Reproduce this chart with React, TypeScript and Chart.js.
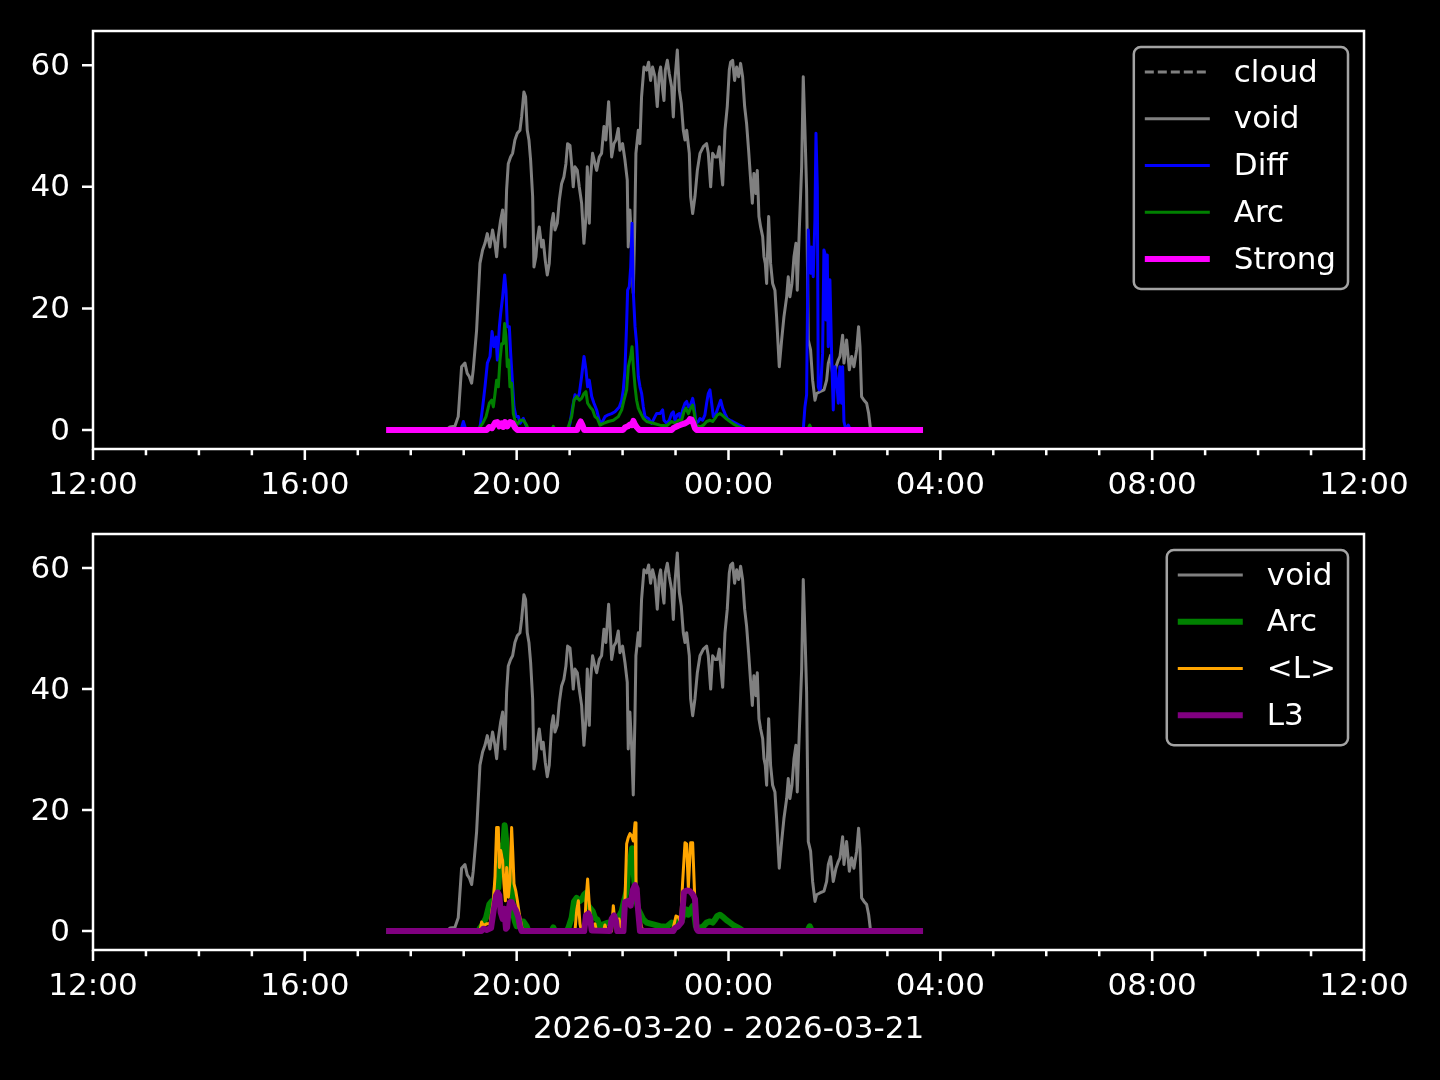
import { useEffect, useRef } from "react";
import { Chart, registerables } from "chart.js";

Chart.register(...registerables);

// ---------- data (x = minutes after 12:00 on 2026-03-20) ----------
const xTickMinutes = [0, 240, 480, 720, 960, 1200, 1440];
const xTickLabels = ["12:00", "16:00", "20:00", "00:00", "04:00", "08:00", "12:00"];
const yTickValues = [0, 20, 40, 60];
const xAxisTitle = "2026-03-20 - 2026-03-21";
const Y_MIN = -3.125;
const Y_MAX = 65.625;

const cloudData: [number, number][] = [];

const voidData: [number, number][] = [
  [335.5, 0], [400, 0], [404.4, 0.5], [410, 0.6], [413.8, 2.2], [417.6, 10.4], [421.4, 11.0], [424.0, 9.3],
  [426.3, 8.8], [429.0, 7.7], [430.8, 9.9], [434.6, 16.4], [438.4, 27.4], [441.4, 29.6], [444.1, 30.7],
  [446.7, 32.3], [449.7, 30.1], [452.7, 32.9], [455.4, 30.7], [457.3, 28.5], [459.2, 31.8], [461.8, 34.5],
  [464.1, 36.2], [466.7, 30.1], [468.6, 39.5], [470.5, 43.8], [473.1, 44.9], [475.4, 45.5], [478.0, 47.7],
  [480.7, 48.8], [483.7, 49.3], [485.6, 51.5], [488.2, 55.6], [490.1, 54.8], [492.0, 49.3], [493.9, 47.7],
  [495.8, 44.4], [498.1, 38.4], [499.6, 26.8], [501.8, 28.5], [503.3, 31.2], [505.6, 33.4], [508.3, 30.1],
  [510.1, 31.2], [512.4, 27.9], [514.7, 25.5], [516.9, 27.4], [519.6, 34.0], [521.5, 35.6], [523.4, 32.9],
  [526.0, 34.0], [528.3, 37.8], [530.9, 40.5], [533.5, 41.6], [535.8, 43.8], [537.7, 47.1], [540.4, 46.8],
  [542.2, 43.8], [544.1, 40.0], [546.0, 43.3], [548.7, 42.7], [550.9, 40.0], [553.6, 37.3], [556.2, 30.7],
  [558.5, 35.1], [560.0, 43.3], [562.3, 34.0], [563.8, 41.6], [566.0, 45.5], [568.7, 43.8], [570.6, 42.7],
  [573.6, 44.9], [576.2, 45.5], [578.9, 49.9], [581.1, 47.7], [584.2, 54.0], [585.7, 50.4], [587.6, 44.9],
  [590.2, 47.1], [592.5, 47.7], [595.1, 49.6], [597.0, 46.0], [600.0, 47.1], [602.7, 44.4], [605.3, 41.1],
  [606.4, 30.1], [608.3, 36.2], [610.2, 30.7], [612.1, 22.5], [614.0, 35.1], [615.1, 45.5], [617.8, 49.3],
  [619.6, 47.1], [621.5, 54.8], [624.2, 59.7], [627.2, 59.2], [629.5, 60.5], [631.7, 57.5], [634.0, 59.7],
  [636.7, 58.1], [639.3, 53.2], [641.6, 58.6], [643.1, 59.7], [645.4, 55.9], [646.9, 54.2], [648.4, 59.2],
  [650.7, 60.8], [652.9, 58.6], [655.6, 56.4], [657.5, 51.5], [659.3, 57.5], [662.0, 62.5], [664.3, 55.9],
  [666.5, 53.7], [668.8, 49.3], [670.7, 47.7], [672.6, 49.3], [675.6, 45.5], [677.1, 38.4], [679.4, 35.6],
  [682.0, 38.4], [684.7, 42.7], [687.7, 45.5], [691.5, 46.6], [695.2, 47.1], [697.1, 45.5], [699.8, 40.0],
  [702.0, 45.5], [704.7, 44.9], [707.3, 44.9], [709.6, 46.6], [711.1, 43.8], [713.4, 40.3], [716.0, 49.3],
  [718.6, 53.2], [720.9, 59.2], [722.4, 60.5], [724.7, 60.8], [726.9, 57.5], [729.2, 59.7], [731.5, 58.1],
  [733.7, 60.3], [736.0, 58.1], [738.3, 53.2], [740.5, 50.4], [742.8, 46.0], [745.1, 41.1], [747.0, 37.3],
  [748.8, 42.2], [751.1, 38.9], [752.6, 42.7], [754.5, 35.1], [756.4, 33.4], [758.7, 31.8], [760.2, 28.5],
  [761.7, 27.4], [763.2, 24.1], [765.5, 35.1], [767.7, 27.4], [770.0, 24.1], [772.6, 23.0], [774.5, 18.6],
  [777.5, 10.4], [780.2, 14.8], [782.8, 18.6], [785.9, 21.9], [787.7, 25.2], [789.6, 21.9], [791.9, 24.1],
  [794.2, 28.5], [796.4, 30.7], [797.9, 23.0], [800.2, 32.9], [802.9, 43.3], [804.7, 58.1], [806.6, 49.3],
  [808.5, 39.5], [810.4, 14.8], [813.0, 13.2], [815.3, 8.2], [818.0, 4.9], [819.8, 6.0], [823.6, 6.3],
  [828.2, 6.6], [831.2, 8.2], [833.1, 11.0], [835.7, 12.3], [838.7, 8.2], [841.8, 10.4], [844.4, 11.5],
  [846.3, 12.1], [849.3, 15.6], [850.8, 11.0], [853.8, 14.8], [856.9, 9.9], [859.5, 12.1], [862.1, 10.4],
  [865.2, 13.2], [867.4, 17.0], [869.0, 13.7], [870.8, 5.5], [873.5, 4.9], [876.5, 4.4], [878.8, 2.7],
  [881.0, 0], [937, 0],
];

const diffData: [number, number][] = [
  [335.5, 0], [417, 0], [419.6, 1.4], [422.5, 0], [436.5, 0], [438.5, 0.5], [441.5, 3.8], [444.1, 7.1],
  [446.8, 11.0], [449.8, 12.1], [452.1, 16.2], [454.3, 13.7], [456.6, 15.3], [458.1, 11.5], [460.4, 17.0],
  [461.9, 19.2], [464.1, 21.9], [466.4, 25.5], [467.9, 23.0], [469.4, 17.0], [471.7, 17.0], [473.2, 12.6],
  [475.5, 7.1], [477.0, 3.8], [479.2, 2.2], [481.9, 2.2], [483.8, 1.1], [487.6, 1.9], [491.3, 0.5],
  [493.2, 0], [538.5, 0], [540.4, 1.1], [543.4, 3.8], [546.1, 5.8], [548.7, 5.2], [551.0, 6.0], [553.6, 8.8],
  [556.3, 12.1], [558.5, 9.9], [560.4, 7.1], [562.3, 8.2], [565.0, 5.5], [567.6, 4.4], [570.6, 3.3],
  [573.6, 1.6], [576.3, 1.1], [580.1, 2.2], [583.8, 2.5], [587.6, 2.7], [591.4, 3.0], [596.3, 3.8],
  [599.0, 4.9], [600.8, 6.6], [602.7, 9.9], [604.6, 17.5], [605.7, 23.0], [607.6, 23.6], [609.2, 26.8],
  [610.7, 34.0], [612.2, 22.5], [614.1, 17.0], [615.9, 14.2], [617.8, 8.8], [619.7, 7.1], [621.6, 6.0],
  [623.5, 3.8], [625.4, 2.2], [629.2, 1.9], [632.9, 1.1], [636.7, 2.2], [638.6, 2.7], [642.4, 2.7],
  [645.4, 3.3], [646.9, 1.6], [649.9, 1.1], [652.9, 1.6], [655.6, 2.7], [657.5, 3.0], [659.3, 1.6],
  [662.0, 2.5], [664.3, 2.7], [665.8, 1.6], [668.0, 3.3], [670.7, 4.4], [672.6, 4.7], [674.5, 3.8],
  [676.3, 3.8], [678.2, 4.7], [679.4, 5.2], [680.9, 4.1], [683.1, 1.1], [685.8, 1.4], [687.7, 1.9],
  [690.7, 1.6], [693.3, 2.5], [695.2, 4.4], [697.1, 6.0], [699.0, 6.6], [700.9, 4.4], [702.8, 2.2],
  [705.8, 2.7], [708.4, 3.8], [711.1, 4.9], [713.4, 3.6], [716.0, 2.7], [718.6, 1.9], [721.7, 1.6],
  [724.7, 1.4], [728.5, 1.1], [732.2, 0.8], [736.8, 0.5], [740.5, 0], [804.7, 0], [806.6, 3.8],
  [808.5, 5.8], [810.4, 32.9], [811.5, 29.0], [813.0, 25.8], [814.1, 30.1], [816.0, 25.2], [817.9, 34.5],
  [819.1, 48.8], [820.6, 40.0], [821.7, 7.1], [822.8, 6.6], [824.3, 6.8], [826.6, 12.6], [828.1, 29.6],
  [829.3, 29.0], [830.4, 18.1], [831.9, 28.8], [833.0, 13.7], [834.9, 24.7], [836.8, 12.6], [838.7, 3.3],
  [840.6, 10.4], [842.5, 8.2], [844.4, 4.4], [846.2, 10.4], [848.1, 4.4], [849.3, 10.4], [850.8, 1.4],
  [853.0, 0], [855.7, 0.8], [858.3, 0], [937, 0],
];

const arcData: [number, number][] = [
  [335.5, 0], [436.5, 0], [438.5, 0.5], [441.5, 1.1], [445.3, 2.2], [449.0, 4.4], [451.7, 4.9], [453.6, 3.8],
  [455.5, 6.0], [457.3, 8.2], [459.2, 7.1], [461.1, 11.5], [463.0, 14.2], [464.9, 14.2], [466.4, 17.5],
  [467.9, 15.3], [469.4, 10.4], [470.9, 11.5], [472.4, 7.1], [474.3, 7.7], [476.2, 2.7], [478.1, 1.6],
  [480.0, 0.8], [483.8, 1.6], [487.6, 1.6], [491.3, 0.8], [493.2, 0], [519.5, 0], [521.5, 0.6], [523.5, 0],
  [536.5, 0], [538.5, 0.5], [542.3, 2.2], [545.0, 4.9], [548.0, 5.5], [551.0, 4.9], [553.6, 5.2],
  [556.3, 6.0], [558.5, 6.3], [560.4, 4.4], [563.1, 3.8], [566.1, 3.3], [568.7, 2.2], [571.4, 1.9],
  [574.4, 0.8], [578.2, 1.1], [583.8, 1.4], [589.5, 1.6], [595.2, 2.2], [599.0, 3.3], [601.6, 4.9],
  [604.6, 6.6], [606.5, 10.4], [609.2, 12.1], [610.7, 13.7], [612.2, 10.4], [614.1, 7.1], [615.9, 4.9],
  [617.8, 3.6], [619.7, 3.0], [623.5, 1.9], [627.3, 1.4], [634.8, 1.1], [642.4, 0.8], [649.9, 0.7],
  [655.6, 1.4], [659.3, 1.1], [663.1, 1.6], [666.9, 1.6], [669.5, 3.0], [671.8, 3.6], [674.5, 2.7],
  [677.1, 3.6], [679.4, 4.1], [681.3, 2.7], [683.1, 0.8], [687.7, 0.5], [691.5, 0.8], [695.2, 1.4],
  [699.0, 1.6], [702.0, 1.4], [704.7, 1.9], [707.3, 2.5], [710.3, 2.7], [714.1, 2.3], [717.9, 1.8],
  [721.7, 1.4], [725.4, 1.0], [729.2, 0.7], [733.0, 0.4], [736.8, 0], [809.5, 0], [812, 0.8], [814.5, 0],
  [937, 0],
];

const strongData: [number, number][] = [
  [335.5, 0], [446, 0], [449.0, 0.5], [452, 0.3], [455.5, 1.2], [458.1, 1.3], [460.4, 0.6], [463.0, 1.1],
  [464.9, 0.5], [466.8, 1.3], [469.4, 0.6], [472.4, 1.3], [475.5, 1.1], [478.1, 0.4], [480.8, 0],
  [548.5, 0], [550.5, 0.8], [552.5, 1.4], [554.5, 0.8], [556.5, 0], [600.5, 0], [602.7, 0.4], [606, 0.6],
  [608.4, 0.9], [610.5, 0.8], [612.2, 1.5], [614, 0.9], [615.9, 0.5], [619, 0], [655.6, 0], [657.5, 0.3],
  [663.1, 0.7], [666.9, 0.9], [670.7, 1.1], [674.5, 1.4], [676.3, 1.8], [678.2, 1.7], [680.1, 1.1],
  [682.0, 0.3], [683.9, 0], [937, 0],
];

const meanLData: [number, number][] = [
  [335.5, 0], [438.5, 0], [440.3, 1.5], [442.2, 0.9], [446, 1.2], [449.8, 1.2], [453.6, 5.0], [455.5, 9.1],
  [457.3, 17.1], [459.2, 17.1], [460.4, 10.5], [461.9, 13.3], [464.1, 11.6], [465.6, 7.8], [467.2, 5.0],
  [468.7, 10.5], [470.6, 5.6], [472.4, 8.3], [474.3, 17.1], [475.5, 13.3], [477.0, 7.8], [478.9, 6.7],
  [480.8, 5.0], [483.0, 2.8], [485.7, 0.7], [487.6, 0], [546, 0], [548, 3.4], [549.9, 5.0], [551.7, 1.2],
  [553.5, 0], [556.8, 0], [558.5, 5.0], [560.4, 8.6], [562, 5.0], [564.2, 1.2], [566.5, 0.8], [568.7, 1.2],
  [570.6, 0], [578.5, 0], [580, 1.0], [582, 0], [587.5, 0], [589.5, 4.2], [591.4, 1.2], [594, 0.3],
  [596, 2.0], [598.5, 0.4], [601, 0], [602.7, 5.0], [604.6, 14.4], [606.5, 15.5], [608.4, 16.1],
  [610.3, 15.7], [612.2, 14.9], [614.1, 17.9], [615.2, 7.8], [616.7, 4.0], [619.7, 1.8], [621.6, 0.6],
  [623.5, 0], [655.6, 0], [657.5, 0.6], [660.5, 2.5], [663.1, 2.3], [665.8, 1.5], [668.0, 8.0],
  [670.7, 14.6], [672.6, 14.4], [674.5, 7.2], [677.1, 14.6], [679.4, 14.6], [681.3, 7.2], [683.1, 0.6],
  [684.6, 0], [937, 0],
];

const l3Data: [number, number][] = [
  [335.5, 0], [440, 0], [442.2, 0.4], [446, 0.2], [451, 0.5], [453.6, 3.1], [456.6, 5.9], [458.5, 6.4],
  [460.4, 5.9], [461.9, 3.1], [464.1, 2.0], [466.0, 3.7], [467.9, 0.4], [469.2, 0.6], [470.6, 3.1],
  [472.4, 4.8], [474.3, 4.8], [476.2, 4.2], [479.2, 3.4], [481.9, 2.3], [483.8, 0.7], [485.7, 0],
  [556.5, 0], [558.5, 2.6], [561.2, 2.9], [563.1, 2.3], [565, 0.1], [585.5, 0], [587.6, 2.0], [590.3, 2.6],
  [592.5, 1.7], [594, 0], [601, 0], [602.7, 4.8], [606.5, 5.0], [609.2, 4.2], [611.4, 6.7], [614.1, 7.6],
  [616.0, 7.0], [617.8, 3.1], [619.7, 0], [657.5, 0], [659.3, 0.5], [663.1, 0.8], [666.9, 1.5],
  [669.5, 6.4], [672.6, 6.7], [676.3, 6.6], [679.4, 6.1], [682.0, 5.3], [683.9, 0.4], [685.5, 0],
  [937, 0],
];

// ---------- styling ----------
const FONT_FAMILY = '"DejaVu Sans", sans-serif';
const FONT_SIZE = 31;
const GRAY = "#808080";

type Series = { label: string; data: [number, number][]; color: string; width: number; dash?: number[] };

const topSeries: Series[] = [
  { label: "cloud", data: cloudData, color: GRAY, width: 3, dash: [9, 4] },
  { label: "void", data: voidData, color: GRAY, width: 3 },
  { label: "Diff", data: diffData, color: "#0000ff", width: 3 },
  { label: "Arc", data: arcData, color: "#008000", width: 3 },
  { label: "Strong", data: strongData, color: "#ff00ff", width: 6 },
];

const bottomSeries: Series[] = [
  { label: "void", data: voidData, color: GRAY, width: 3 },
  { label: "Arc", data: arcData, color: "#008000", width: 6 },
  { label: "<L>", data: meanLData, color: "#ffa500", width: 3 },
  { label: "L3", data: l3Data, color: "#800080", width: 6 },
];

function makeFramePlugin(series: Series[], title: string | null) {
  return {
    id: "mplFrame",
    afterDraw(chart: any) {
      const ctx: CanvasRenderingContext2D = chart.ctx;
      const a = chart.chartArea;
      const xs = chart.scales.x;
      const ys = chart.scales.y;
      ctx.save();
      // ticks
      ctx.strokeStyle = "#ffffff";
      ctx.lineWidth = 2.5;
      ctx.setLineDash([]);
      ctx.lineCap = "butt";
      ctx.beginPath();
      for (let m = 0; m <= 1440; m += 60) {
        const px = xs.getPixelForValue(m);
        const len = m % 240 === 0 ? 11 : 6.25;
        ctx.moveTo(px, a.bottom);
        ctx.lineTo(px, a.bottom + len);
      }
      for (const v of yTickValues) {
        const py = ys.getPixelForValue(v);
        ctx.moveTo(a.left - 11, py);
        ctx.lineTo(a.left, py);
      }
      ctx.stroke();
      // spines
      ctx.strokeRect(a.left, a.top, a.right - a.left, a.bottom - a.top);

      // legend
      ctx.font = `${FONT_SIZE}px ${FONT_FAMILY}`;
      const maxW = Math.max(...series.map((s) => ctx.measureText(s.label).width));
      const rowH = 46.75;
      const w = 100 + maxW + 12;
      const h = 25 + (series.length - 1) * rowH + 30;
      const right = a.right - 16;
      const left = right - w;
      const top = a.top + 16;
      ctx.beginPath();
      ctx.roundRect(left, top, w, h, 7);
      ctx.fillStyle = "#000000";
      ctx.fill();
      ctx.strokeStyle = "#a3a3a3";
      ctx.lineWidth = 2.5;
      ctx.stroke();
      series.forEach((s, i) => {
        const y = top + 25 + i * rowH;
        ctx.beginPath();
        ctx.strokeStyle = s.color;
        ctx.lineWidth = s.width;
        ctx.setLineDash(s.dash || []);
        ctx.lineCap = s.dash ? "butt" : "square";
        ctx.moveTo(left + 11 + (s.dash ? 0 : s.width / 2), y);
        ctx.lineTo(left + 76 - (s.dash ? 0 : s.width / 2), y);
        ctx.stroke();
        ctx.setLineDash([]);
        ctx.fillStyle = "#ffffff";
        ctx.textAlign = "left";
        ctx.textBaseline = "middle";
        ctx.fillText(s.label, left + 100, y + 1.5);
      });

      if (title) {
        ctx.fillStyle = "#ffffff";
        ctx.textAlign = "center";
        ctx.textBaseline = "middle";
        ctx.fillText(title, (a.left + a.right) / 2, a.bottom + 80);
      }
      ctx.restore();
    },
  };
}

function makeConfig(series: Series[], padTop: number, xAxisHeight: number, title: string | null): any {
  const n = series.length;
  return {
    type: "line",
    data: {
      datasets: series.map((s, i) => ({
        label: s.label,
        data: s.data.map(([x, y]) => ({ x, y })),
        borderColor: s.color,
        backgroundColor: s.color,
        borderWidth: s.width,
        borderDash: s.dash || [],
        borderCapStyle: "square",
        borderJoinStyle: "round",
        pointRadius: 0,
        pointHoverRadius: 0,
        tension: 0,
        fill: false,
        order: n - i,
      })),
    },
    options: {
      animation: false,
      responsive: false,
      devicePixelRatio: 1,
      events: [],
      layout: { padding: { left: 0, right: 76, top: padTop, bottom: 0 } },
      plugins: { legend: { display: false }, tooltip: { enabled: false }, title: { display: false } },
      scales: {
        x: {
          type: "linear",
          min: 0,
          max: 1440,
          grid: { display: false, drawTicks: false },
          border: { display: false },
          ticks: {
            color: "#ffffff",
            font: { family: FONT_FAMILY, size: FONT_SIZE },
            padding: 18,
            maxRotation: 0,
            autoSkip: false,
            callback: (v: number) => {
              const i = xTickMinutes.indexOf(v);
              return i >= 0 ? xTickLabels[i] : "";
            },
          },
          afterBuildTicks: (s: any) => {
            s.ticks = xTickMinutes.map((v) => ({ value: v }));
          },
          afterFit: (s: any) => {
            s.height = xAxisHeight;
            s.paddingLeft = 0;
            s.paddingRight = 0;
            s.paddingTop = 0;
            s.paddingBottom = 0;
          },
        },
        y: {
          type: "linear",
          min: Y_MIN,
          max: Y_MAX,
          grid: { display: false, drawTicks: false },
          border: { display: false },
          ticks: {
            color: "#ffffff",
            font: { family: FONT_FAMILY, size: FONT_SIZE },
            padding: 23,
            labelOffset: 1.5,
            callback: (v: number) => String(v),
          },
          afterBuildTicks: (s: any) => {
            s.ticks = yTickValues.map((v) => ({ value: v }));
          },
          afterFit: (s: any) => {
            s.width = 93;
            s.paddingTop = 0;
            s.paddingBottom = 0;
            s.paddingLeft = 0;
            s.paddingRight = 0;
          },
        },
      },
    },
    plugins: [makeFramePlugin(series, title)],
  };
}

export default function App() {
  const topRef = useRef<HTMLCanvasElement>(null);
  const botRef = useRef<HTMLCanvasElement>(null);

  useEffect(() => {
    const c1 = new Chart(topRef.current as HTMLCanvasElement, makeConfig(topSeries, 31, 51, null));
    const c2 = new Chart(botRef.current as HTMLCanvasElement, makeConfig(bottomSeries, 34, 130, xAxisTitle));
    return () => {
      c1.destroy();
      c2.destroy();
    };
  }, []);

  return (
    <div
      style={{
        position: "fixed",
        left: 0,
        top: 0,
        width: 1440,
        height: 1080,
        background: "#000000",
        overflow: "hidden",
      }}
    >
      <canvas
        ref={topRef}
        width={1440}
        height={500}
        style={{ position: "absolute", left: 0, top: 0, width: 1440, height: 500, display: "block" }}
      />
      <canvas
        ref={botRef}
        width={1440}
        height={580}
        style={{ position: "absolute", left: 0, top: 500, width: 1440, height: 580, display: "block" }}
      />
    </div>
  );
}
